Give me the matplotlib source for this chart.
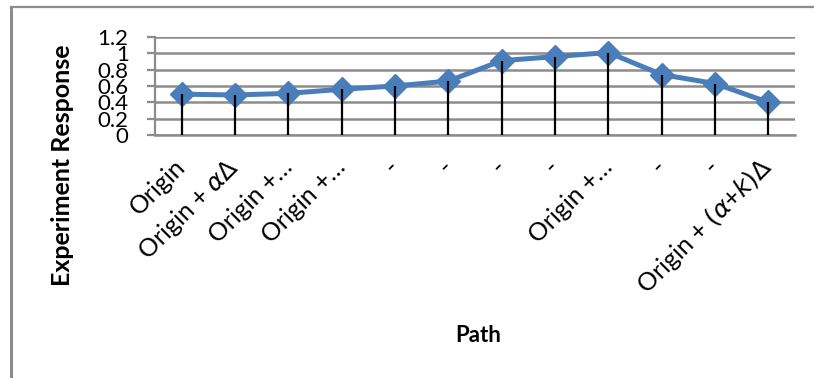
import matplotlib
matplotlib.use("Agg")
import matplotlib.pyplot as plt
from matplotlib.lines import Line2D
import numpy as np

plt.rcParams['font.family'] = ['Lato', 'DejaVu Sans']
plt.rcParams['mathtext.fontset'] = 'dejavusans'

categories = ["Origin", "Origin + $\\alpha\\Delta$", "Origin +…", "Origin +…",
              "-", "-", "-", "-", "Origin +…", "-", "-",
              "Origin + $(\\alpha$+$k)\\Delta$"]
responses = [0.50, 0.49, 0.51, 0.56, 0.60, 0.66, 0.91, 0.96, 1.01, 0.74, 0.63, 0.40]
y_ticks = [0, 0.2, 0.4, 0.6, 0.8, 1.0, 1.2]
y_tick_labels = ["0", "0.2", "0.4", "0.6", "0.8", "1", "1.2"]

W, H = 814, 378
fig = plt.figure(figsize=(W / 100, H / 100), dpi=100)
ax = fig.add_axes([155 / W, 1 - 135 / H, (795 - 155) / W, (135 - 37) / H])

x = np.arange(len(categories))
grid_c = "#8c8c8c"
blue = "#4a7ebb"

ax.plot(x, responses, color=blue, lw=3.6, marker='D', ms=12, zorder=3,
        solid_joinstyle='round')
ax.vlines(x, 0, responses, color='black', lw=1.6, zorder=4)

ax.set_xlim(-0.5, len(categories) - 0.5)
ax.set_ylim(0, 1.2)
ax.set_yticks(y_ticks)
ax.set_yticklabels(y_tick_labels, fontsize=16)
ax.yaxis.grid(True, color=grid_c, lw=1.8)
ax.set_axisbelow(True)
for s in ['top', 'right']:
    ax.spines[s].set_visible(False)
ax.spines['bottom'].set_color(grid_c)
ax.spines['bottom'].set_linewidth(1.8)
ax.spines['left'].set_color(grid_c)
ax.spines['left'].set_linewidth(1.6)
ax.tick_params(axis='y', length=6, width=1.6, color=grid_c, pad=13)
ax.tick_params(axis='x', length=0, pad=20)
ax.set_xticks(x)
ax.set_xticklabels(categories, rotation=45, ha='right', va='center',
                   rotation_mode='anchor', fontsize=18)

fig.text(478 / W, 1 - 335 / H, "Path", ha='center', va='center',
         fontsize=16, fontweight='bold')
fig.text(62 / W, 1 - 165 / H, "Experiment Response", ha='center', va='center',
         rotation=90, fontsize=18, fontweight='bold')

# outer chart frame
fig.add_artist(Line2D([10.5 / W, 10.5 / W], [0, 1 - 7 / H], color=grid_c, lw=2.2,
                      transform=fig.transFigure))
fig.add_artist(Line2D([10.5 / W, 1], [1 - 7 / H, 1 - 7 / H], color=grid_c, lw=1.6,
                      transform=fig.transFigure))

fig.savefig("out.png", dpi=100)
